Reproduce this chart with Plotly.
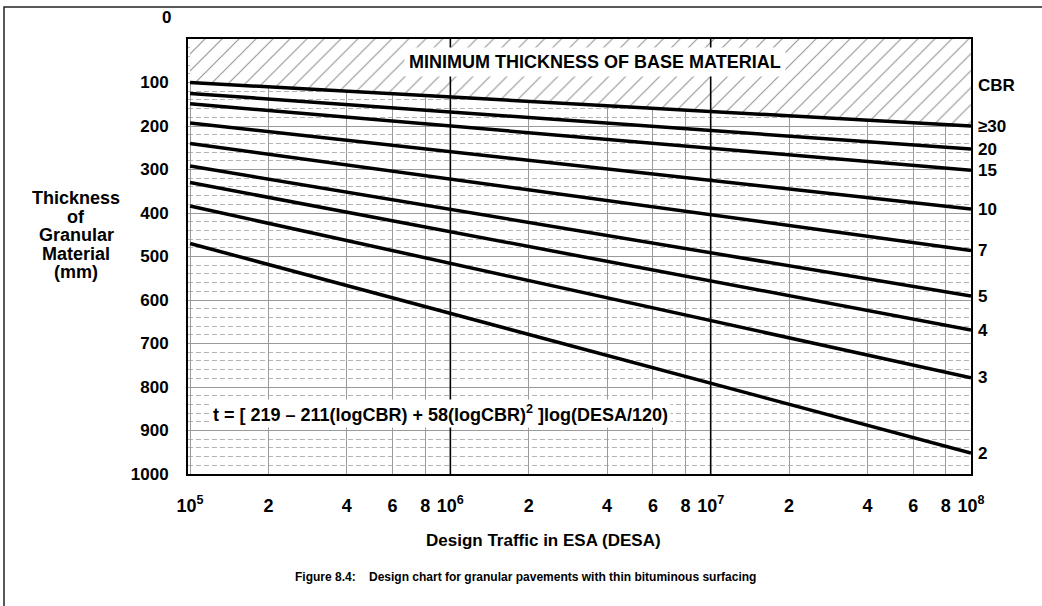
import numpy as np
import plotly.graph_objects as go

# Design traffic range (ESA) and thickness read at both ends of each CBR line
desa_ends = [1e5, 1e8]
cbr_labels = ["≥30", "20", "15", "10", "7", "5", "4", "3", "2"]
thickness_start = [100, 125, 149, 193, 240, 292, 330, 384, 470]
thickness_end = [200, 253, 302, 391, 486, 591, 669, 779, 952]

# Axis tick values / labels
x_tickvals = [1e5, 2e5, 4e5, 6e5, 8e5, 1e6, 2e6, 4e6, 6e6, 8e6, 1e7, 2e7, 4e7, 6e7, 8e7, 1e8]
x_ticktext = ["10<sup>5</sup>", "2", "4", "6", "8", "10<sup>6</sup>", "2", "4", "6", "8",
              "10<sup>7</sup>", "2", "4", "6", "8", "10<sup>8</sup>"]
decade_lines = [1e6, 1e7]
y_tickvals = [100, 200, 300, 400, 500, 600, 700, 800, 900, 1000]
y_top, y_bottom = 0, 1000

W, H = 1042, 606
L, R, T, B = 188, 71, 39, 132
pw, ph = W - L - R, H - T - B


def px(xp):
    return (xp - L) / pw


def py(yp):
    return (H - B - yp) / ph


FONT = "Liberation Sans, Arial, sans-serif"


def note(x, y, text, size=18, xanchor="center", family=FONT, **kw):
    return dict(x=x, xref="paper", y=y, yref="paper", text=text, showarrow=False,
                xanchor=xanchor, yanchor="middle",
                font=dict(family=family, size=size, color="black"), **kw)


fig = go.Figure()

# Hatched zone above the CBR >= 30 line
fig.add_trace(go.Scatter(
    x=[desa_ends[0], desa_ends[1], desa_ends[1], desa_ends[0]],
    y=[thickness_start[0], thickness_end[0], y_top, y_top],
    mode="lines", fill="toself", line=dict(width=0),
    fillcolor="white",
    fillpattern=dict(shape="/", fgcolor="#333333", bgcolor="white", size=12, solidity=0.1),
    hoverinfo="skip", showlegend=False,
))

# Heavy vertical decade lines
for xv in decade_lines:
    fig.add_trace(go.Scatter(
        x=[xv, xv], y=[y_top, y_bottom], mode="lines",
        line=dict(color="black", width=1.6), hoverinfo="skip", showlegend=False,
    ))

# CBR design lines
for lab, t0, t1 in zip(cbr_labels, thickness_start, thickness_end):
    fig.add_trace(go.Scatter(
        x=desa_ends, y=[t0, t1], mode="lines", name=lab,
        line=dict(color="black", width=3.5), showlegend=False,
    ))

annotations = []
for lab, t1 in zip(cbr_labels, thickness_end):
    annotations.append(dict(
        x=1, xref="paper", y=t1, yref="y", text=f"<b>{lab}</b>", showarrow=False,
        xanchor="left", yanchor="middle", xshift=5,
        font=dict(family=FONT, size=17, color="black"),
    ))

annotations += [
    note(1, py(86), "<b>CBR</b>", size=17, xanchor="left", xshift=5),
    note(px(173), py(18), "<b>0</b>", size=17, xanchor="right"),
    note(px(595), py(62), "<b>MINIMUM THICKNESS OF BASE MATERIAL</b>",
         bgcolor="white", borderpad=4),
    note(px(440), py(413),
         "<b>t = [ 219 – 211(logCBR) + 58(logCBR)<sup>2</sup> ]log(DESA/120)</b>",
         bgcolor="white", borderpad=2),
    note(px(543), py(540), "<b>Design Traffic in ESA (DESA)</b>", size=17),
    note(px(525), py(577),
         "<b>Figure 8.4:    Design chart for granular pavements with thin bituminous surfacing</b>",
         size=12, family="Liberation Sans Narrow, Arial Narrow, Liberation Sans, sans-serif"),
]

# Y axis title, one line per annotation
for i, word in enumerate(["Thickness", "of", "Granular", "Material", "(mm)"]):
    annotations.append(note(px(76), py(198 + 18.5 * i), f"<b>{word}</b>"))

fig.update_layout(
    width=W, height=H,
    margin=dict(l=L, r=R, t=T, b=B),
    paper_bgcolor="white", plot_bgcolor="white",
    annotations=annotations,
    shapes=[dict(type="rect", xref="paper", yref="paper",
                 x0=px(4), x1=px(1048), y0=py(612), y1=py(7),
                 line=dict(color="#222222", width=1.5))],
    xaxis=dict(
        type="log", range=[np.log10(0.982e5), 8],
        tickvals=x_tickvals, ticktext=x_ticktext,
        tickfont=dict(family=FONT, size=18, color="black", weight="bold"),
        ticks="", ticklabelstandoff=14,
        showgrid=True, gridcolor="#9a9a9a", gridwidth=1,
        showline=True, linecolor="black", linewidth=2, mirror=True,
        zeroline=False,
    ),
    yaxis=dict(
        range=[y_bottom, y_top],
        tickvals=y_tickvals,
        tickfont=dict(family=FONT, size=17, color="black", weight="bold"),
        ticks="", ticklabelstandoff=14,
        showgrid=True, gridcolor="#9a9a9a", gridwidth=1,
        minor=dict(dtick=20, showgrid=True, gridcolor="#b4b4b4", griddash="5px,3px", gridwidth=1),
        showline=True, linecolor="black", linewidth=2, mirror=True,
        zeroline=False,
    ),
)

fig.write_html("out.html")
